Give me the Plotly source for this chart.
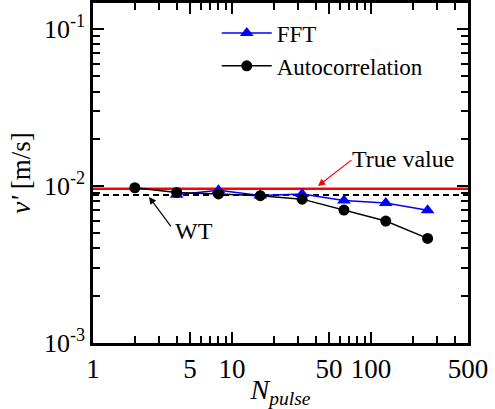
import numpy as np
import plotly.graph_objects as go

# ---- data ----
n_fft = [4, 8, 16, 32, 64, 128, 256]
v_fft = [0.0088, 0.0094, 0.0087, 0.0089, 0.0081, 0.0078, 0.0070]
n_auto = [2, 4, 8, 16, 32, 64, 128, 256]
v_auto = [0.00975, 0.0091, 0.0089, 0.00868, 0.00825, 0.00703, 0.00598, 0.00464]
true_value = 0.0096
wt_value = 0.00876
x_range = [1, 500]
x_tickvals = [1, 5, 10, 50, 100, 500]
x_ticktext = ["1", "5", "10", "50", "100", "500"]
x_minor = [2, 3, 4, 6, 7, 8, 9, 20, 30, 40, 60, 70, 80, 90, 200, 300, 400]
y_tickvals = [1e-3, 1e-2, 1e-1]
y_ticktext = ["10<sup>-3</sup>", "10<sup>-2</sup>", "10<sup>-1</sup>"]
y_minor = [m * d for d in (1e-3, 1e-2) for m in range(2, 10)]

FONT = "Times New Roman, DejaVu Serif"

fig = go.Figure()
fig.add_trace(go.Scatter(x=x_range, y=[true_value, true_value], mode="lines",
                         line=dict(color="#ff0000", width=2.5), showlegend=False, hoverinfo="skip"))
fig.add_trace(go.Scatter(x=x_range, y=[wt_value, wt_value], mode="lines",
                         line=dict(color="black", width=2, dash="6px,4px"), showlegend=False, hoverinfo="skip"))
fig.add_trace(go.Scatter(x=n_fft, y=v_fft, mode="lines+markers", name="FFT",
                         line=dict(color="#0000ff", width=1.5),
                         marker=dict(symbol="triangle-up", size=12, color="#0000ff")))
fig.add_trace(go.Scatter(x=n_auto, y=v_auto, mode="lines+markers", name="Autocorrelation",
                         line=dict(color="black", width=1.5),
                         marker=dict(symbol="circle", size=11, color="black")))

axis_common = dict(showline=True, linewidth=2.5, linecolor="black", mirror="ticks",
                   ticks="inside", ticklen=11, tickwidth=2, tickcolor="black",
                   showgrid=False, zeroline=False, automargin=False, tickangle=0)

fig.update_xaxes(type="log", range=[np.log10(x_range[0]), np.log10(x_range[1])],
                 tickmode="array", tickvals=x_tickvals, ticktext=x_ticktext,
                 tickfont=dict(family=FONT, size=27, color="black"),
                 minor=dict(tickmode="array", tickvals=x_minor, ticks="inside", ticklen=7,
                            tickwidth=2, tickcolor="black", showgrid=False),
                 title=dict(text="<i>N<sub>pulse</sub></i>", font=dict(family=FONT, size=28, color="black"),
                            standoff=2),
                 **axis_common)
fig.update_yaxes(type="log", range=[-3, -0.834],
                 tickmode="array", tickvals=y_tickvals, ticktext=y_ticktext,
                 tickfont=dict(family=FONT, size=26, color="black"),
                 minor=dict(tickmode="array", tickvals=y_minor, ticks="inside", ticklen=7,
                            tickwidth=2, tickcolor="black", showgrid=False),
                 title=dict(text="<i>v'</i> [m/s]", font=dict(family=FONT, size=27, color="black"),
                            standoff=6),
                 **axis_common)

# annotations (log axes: positions in log10 units)
fig.add_annotation(x=np.log10(41.6), y=np.log10(true_value) + 0.018, ax=35, ay=-27,
                   text="", showarrow=True, arrowhead=2, arrowsize=1.2, arrowwidth=1.2,
                   arrowcolor="#ff0000")
fig.add_annotation(x=np.log10(41.6), y=np.log10(true_value), xshift=85, yshift=30,
                   text="True value", showarrow=False,
                   font=dict(family=FONT, size=24, color="black"))
fig.add_annotation(x=np.log10(2.53), y=np.log10(wt_value) - 0.012, ax=23, ay=31,
                   text="", showarrow=True, arrowhead=2, arrowsize=1.2, arrowwidth=1.2,
                   arrowcolor="black")
fig.add_annotation(x=np.log10(2.53), y=np.log10(wt_value), xshift=45, yshift=-36,
                   text="WT", showarrow=False,
                   font=dict(family=FONT, size=24, color="black"))

fig.update_layout(
    width=495, height=409,
    margin=dict(l=93, r=27, t=3, b=66),
    paper_bgcolor="white", plot_bgcolor="white",
    legend=dict(x=0.33, y=0.975, xanchor="left", yanchor="top",
                font=dict(family=FONT, size=23, color="black"),
                bgcolor="rgba(0,0,0,0)", tracegroupgap=0, itemwidth=50),
)

fig.write_html("out.html")
